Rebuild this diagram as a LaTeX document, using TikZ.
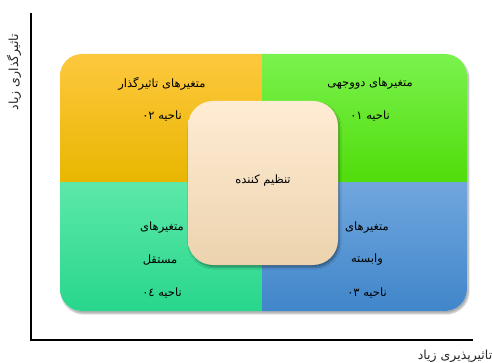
\documentclass[tikz,border=0pt]{standalone}
\usepackage{fontspec}
\usetikzlibrary{shadows.blur}
\newfontfamily\arabicfont[Script=Arabic]{DejaVu Sans}
\TeXXeTstate=1
\definecolor{orTop}{RGB}{254,200,62}
\definecolor{orBot}{RGB}{232,182,0}
\definecolor{grTop}{RGB}{122,242,78}
\definecolor{grBot}{RGB}{80,220,10}
\definecolor{tlTop}{RGB}{92,232,168}
\definecolor{tlBot}{RGB}{40,214,140}
\definecolor{blTop}{RGB}{112,166,222}
\definecolor{blBot}{RGB}{64,134,202}
\definecolor{ctTop}{RGB}{255,236,212}
\definecolor{ctBot}{RGB}{236,211,174}
\begin{document}
\begin{tikzpicture}[x=1pt,y=-1pt,
  lbl/.style={font=\arabicfont\fontsize{11.5}{13}\selectfont, inner sep=0pt, text=black},
  axlbl/.style={font=\arabicfont\fontsize{12.5}{14}\selectfont, inner sep=0pt, text=black!85},
  axisline/.style={line width=1.2pt, black},
  softshadow/.style={blur shadow={shadow xshift=1.5pt, shadow yshift=-2.5pt, shadow blur steps=6, shadow blur extra rounding=2pt, shadow opacity=35}}]
\useasboundingbox (0,0) rectangle (492,363);
% axes
\coordinate (ytop) at (31,13);
\coordinate (orig) at (31,340);
\coordinate (xend) at (473,340);
\draw[axisline] (ytop) -- (orig) -- (xend);
% outer panel
\path[fill=white, softshadow, rounded corners=22pt] (60,54) rectangle (467,311);
\begin{scope}
\clip[rounded corners=22pt] (60,54) rectangle (467,311);
\shade[top color=orTop, bottom color=orBot] (60,54) rectangle (262,183);
\shade[top color=grTop, bottom color=grBot] (262,54) rectangle (467,183);
\shade[top color=tlTop, bottom color=tlBot] (60,183) rectangle (262,311);
\shade[top color=blTop, bottom color=blBot] (262,183) rectangle (467,311);
\end{scope}
% centre box
\node[rounded corners=25pt, minimum width=150pt, minimum height=164pt, top color=ctTop, bottom color=ctBot, softshadow, inner sep=0pt] (mod) at (263,183) {};
\node[lbl] (modt) at (263,181) {\beginR تنظیم کننده\endR};
% quadrant texts
\node[lbl] (q2a) at (162,84) {\beginR متغیرهای تاثیرگذار\endR};
\node[lbl] (q2b) at (162,116) {\beginR ناحیه ٠٢\endR};
\node[lbl] (q1a) at (370,84) {\beginR متغیرهای دووجهی\endR};
\node[lbl] (q1b) at (370,116) {\beginR ناحیه ٠١\endR};
\node[lbl] (q4a) at (162,228) {\beginR متغیرهای\endR};
\node[lbl] (q4b) at (160,260) {\beginR مستقل\endR};
\node[lbl] (q4c) at (162,293) {\beginR ناحیه ٠٤\endR};
\node[lbl] (q3a) at (367,228) {\beginR متغیرهای\endR};
\node[lbl] (q3b) at (367,260) {\beginR وابسته\endR};
\node[lbl] (q3c) at (367,293) {\beginR ناحیه ٠٣\endR};
% axis labels
\node[axlbl, rotate=90] (ylab) at (14,72) {\beginR تاثیرگذاری زیاد\endR};
\node[axlbl] (xlab) at (455,356) {\beginR تاثیرپذیری زیاد\endR};
\end{tikzpicture}
\end{document}
